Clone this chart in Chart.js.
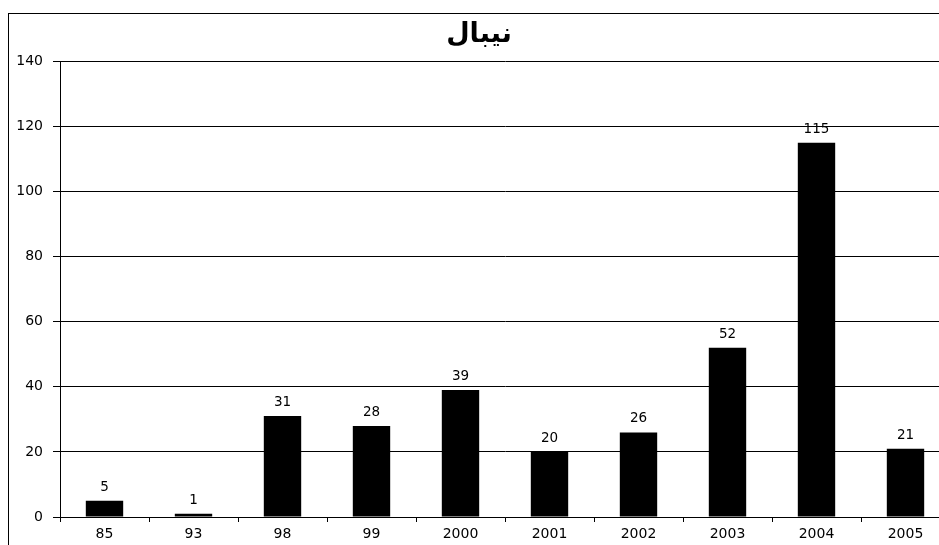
<!DOCTYPE html>
<html>
<head>
<meta charset="utf-8">
<script src="https://cdn.jsdelivr.net/npm/chart.js@4/dist/chart.umd.min.js"></script>
<style>
  html, body { margin: 0; padding: 0; background: #fff; overflow: hidden; }
  #wrap { width: 960px; height: 545px; position: relative; }
</style>
</head>
<body>
<div id="wrap"><canvas id="c"></canvas></div>
<script>
// Years on the category axis and the count recorded for each
const categories = ['85', '93', '98', '99', '2000', '2001', '2002', '2003', '2004', '2005'];
const counts = [5, 1, 31, 28, 39, 20, 26, 52, 115, 21];
const chartTitle = 'نيبال';
const yMin = 0, yMax = 140, yStep = 20;

const FONT = "'DejaVu Sans', 'Liberation Sans', sans-serif";

// Thin frame around the whole chart
const framePlugin = {
  id: 'frame',
  beforeDraw(chart) {
    const ctx = chart.ctx;
    ctx.save();
    ctx.strokeStyle = '#000';
    ctx.lineWidth = 1;
    ctx.strokeRect(8.5, 13.5, chart.width + 50, chart.height + 50);
    ctx.restore();
  }
};

// Value printed above each bar
const valueLabels = {
  id: 'valueLabels',
  afterDatasetsDraw(chart) {
    const ctx = chart.ctx;
    const meta = chart.getDatasetMeta(0);
    ctx.save();
    ctx.fillStyle = '#000';
    ctx.font = '13.5px ' + FONT;
    ctx.textAlign = 'center';
    ctx.textBaseline = 'alphabetic';
    meta.data.forEach((bar, i) => {
      ctx.fillText(String(chart.data.datasets[0].data[i]), bar.x, bar.y - 10);
    });
    ctx.restore();
  }
};

new Chart(document.getElementById('c'), {
  type: 'bar',
  data: {
    labels: categories,
    datasets: [{
      data: counts,
      backgroundColor: '#000',
      borderWidth: 0,
      barPercentage: 0.42,
      categoryPercentage: 1.0
    }]
  },
  options: {
    responsive: true,
    maintainAspectRatio: false,
    animation: false,
    layout: { padding: { left: 8, right: 10, top: 13, bottom: 0 } },
    plugins: {
      legend: { display: false },
      tooltip: { enabled: false },
      title: {
        display: true,
        text: chartTitle,
        color: '#000',
        font: { family: "'DejaVu Sans', sans-serif", size: 27, weight: 'bold', lineHeight: 1.2 },
        padding: { top: 6, bottom: 10 }
      }
    },
    scales: {
      x: {
        offset: true,
        grid: {
          offset: true,
          drawOnChartArea: false,
          drawTicks: true,
          tickLength: 5,
          color: '#000'
        },
        border: { display: true, color: '#000', width: 1 },
        ticks: {
          color: '#000',
          font: { family: FONT, size: 14 },
          padding: 4,
          maxRotation: 0,
          autoSkip: false
        },
        afterFit(scale) { scale.height = 28; }
      },
      y: {
        min: yMin,
        max: yMax,
        grid: {
          color: '#000',
          lineWidth: 1,
          drawTicks: true,
          tickLength: 7
        },
        border: { display: true, color: '#000', width: 1 },
        ticks: {
          stepSize: yStep,
          color: '#000',
          font: { family: FONT, size: 14 },
          padding: 10
        },
        afterFit(scale) { scale.width = 52; }
      }
    }
  },
  plugins: [framePlugin, valueLabels]
});
</script>
</body>
</html>
